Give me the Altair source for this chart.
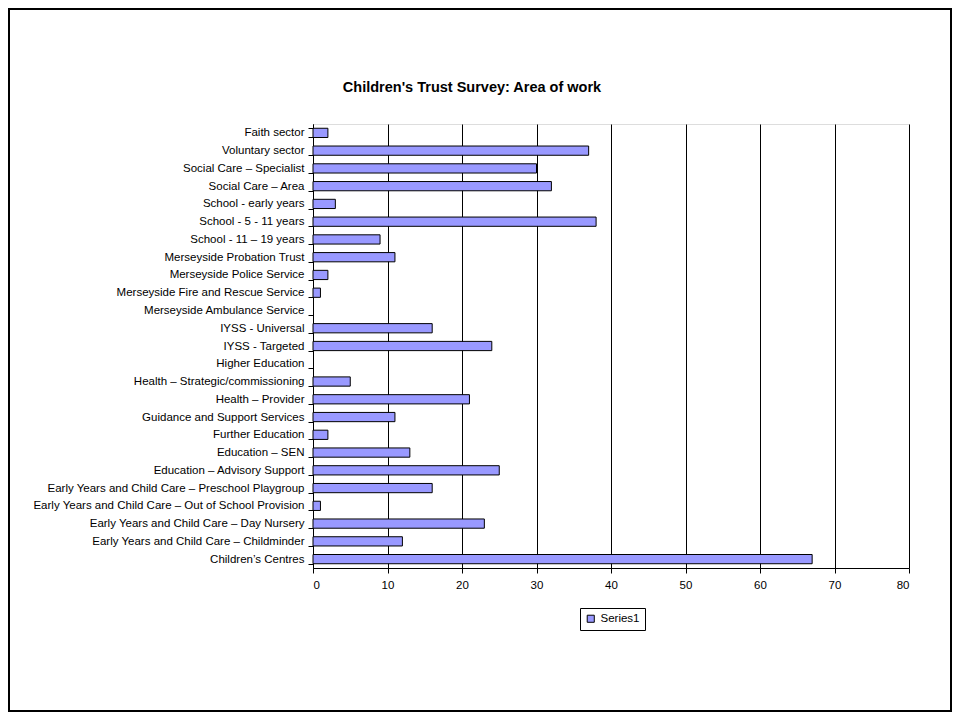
import altair as alt
import pandas as pd

categories = [
    "Faith sector",
    "Voluntary sector",
    "Social Care – Specialist",
    "Social Care – Area",
    "School - early years",
    "School - 5 - 11 years",
    "School - 11 – 19 years",
    "Merseyside Probation Trust",
    "Merseyside Police Service",
    "Merseyside Fire and Rescue Service",
    "Merseyside Ambulance Service",
    "IYSS - Universal",
    "IYSS - Targeted",
    "Higher Education",
    "Health – Strategic/commissioning",
    "Health – Provider",
    "Guidance and Support Services",
    "Further Education",
    "Education – SEN",
    "Education – Advisory Support",
    "Early Years and Child Care – Preschool Playgroup",
    "Early Years and Child Care – Out of School Provision",
    "Early Years and Child Care – Day Nursery",
    "Early Years and Child Care – Childminder",
    "Children’s Centres",
]
values = [2, 37, 30, 32, 3, 38, 9, 11, 2, 1, 0, 16, 24, 0, 5, 21, 11, 2, 13, 25, 16, 1, 23, 12, 67]
series = ["Series1"] * len(categories)
x_ticks = [0, 10, 20, 30, 40, 50, 60, 70, 80]
chart_title = ["Children's Trust Survey: Area of work"]

df = pd.DataFrame({"category": categories, "value": values, "series": series})

FONT = "Liberation Sans"

bars = alt.Chart(df).mark_bar(stroke="black", strokeWidth=1).encode(
    y=alt.Y(
        "category:N",
        sort=None,
        title=None,
        scale=alt.Scale(paddingInner=0.48, paddingOuter=0.24),
        axis=alt.Axis(
            tickBand="extent",
            tickSize=5,
            tickColor="black",
            domainColor="black",
            labelFont=FONT,
            labelFontSize=11.5,
            labelColor="black",
            labelPadding=4,
            labelLimit=400,
        ),
    ),
    x=alt.X(
        "value:Q",
        title=None,
        scale=alt.Scale(domain=[0, 80], nice=False),
        axis=alt.Axis(
            values=x_ticks,
            grid=True,
            gridColor="black",
            gridOpacity=1,
            tickSize=5,
            tickColor="black",
            domainColor="black",
            labelFont=FONT,
            labelFontSize=11.5,
            labelColor="black",
            labelPadding=6,
        ),
    ),
    strokeOpacity=alt.condition("datum.value > 0", alt.value(1), alt.value(0)),
    color=alt.Color(
        "series:N",
        scale=alt.Scale(range=["#9999FF"]),
        legend=alt.Legend(
            title=None,
            orient="none",
            legendX=267,
            legendY=484,
            padding=5,
            strokeColor="black",
            fillColor="white",
            symbolType="square",
            symbolSize=50,
            symbolStrokeColor="black",
            symbolStrokeWidth=1,
            labelFont=FONT,
            labelFontSize=11.5,
            labelColor="black",
        ),
    ),
)

title = alt.Chart(pd.DataFrame({"t": chart_title})).mark_text(
    font=FONT, fontSize=14.5, fontWeight="bold", color="black",
    align="center", baseline="middle",
).encode(
    text="t:N",
    x=alt.value(159),
    y=alt.value(-36),
)

frame = alt.Chart(pd.DataFrame({"a": [0]})).mark_rect(
    filled=False, stroke="black", strokeWidth=2
).encode(
    x=alt.value(-304),
    x2=alt.value(638),
    y=alt.value(-115),
    y2=alt.value(587),
)

chart = alt.layer(bars, title, frame).properties(
    width=596,
    height=444,
    autosize=alt.AutoSizeParams(type="none"),
    padding={"left": 305, "top": 116, "right": 43, "bottom": 144},
).configure_view(stroke="#808080", strokeWidth=1).configure(background="white")

chart.save("out.html", embed_options={"renderer": "svg", "actions": False})
